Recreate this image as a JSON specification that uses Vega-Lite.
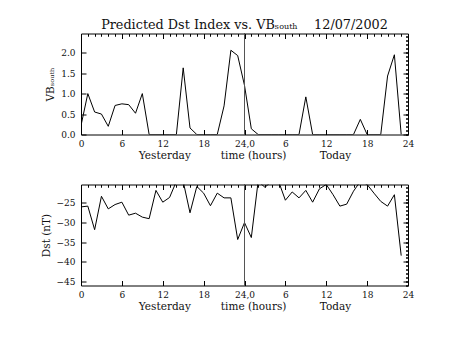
{
  "$schema": "https://vega.github.io/schema/vega-lite/v6.json",
  "background": "white",
  "padding": {"left": 41, "top": 18.5, "right": 5, "bottom": 5},
  "config": {
    "font": "DejaVu Serif",
    "view": {"stroke": null},
    "axis": {"domainColor": "black", "tickColor": "black", "labelColor": "#111", "titleColor": "#111", "labelFont": "DejaVu Serif", "titleFont": "DejaVu Serif", "labelFontSize": 9, "titleFontSize": 10.5, "titleFontWeight": "normal", "grid": false, "domainWidth": 1, "tickWidth": 1},
    "concat": {"spacing": 19}
  },
  "datasets": {
    "series": [
      {"h": 0, "vb": 0.22, "dst": -26.0},
      {"h": 1, "vb": 1.0, "dst": -25.8},
      {"h": 2, "vb": 0.55, "dst": -31.8},
      {"h": 3, "vb": 0.5, "dst": -23.3},
      {"h": 4, "vb": 0.2, "dst": -26.5},
      {"h": 5, "vb": 0.71, "dst": -25.4},
      {"h": 6, "vb": 0.75, "dst": -24.8},
      {"h": 7, "vb": 0.73, "dst": -28.1},
      {"h": 8, "vb": 0.52, "dst": -27.6},
      {"h": 9, "vb": 1.0, "dst": -28.6},
      {"h": 10, "vb": 0.0, "dst": -29.0},
      {"h": 11, "vb": 0.0, "dst": -21.8},
      {"h": 12, "vb": 0.0, "dst": -24.8},
      {"h": 13, "vb": 0.0, "dst": -23.6},
      {"h": 14, "vb": 0.0, "dst": -19.5},
      {"h": 15, "vb": 1.63, "dst": -19.5},
      {"h": 16, "vb": 0.16, "dst": -27.5},
      {"h": 17, "vb": 0.0, "dst": -20.8},
      {"h": 18, "vb": 0.0, "dst": -22.5},
      {"h": 19, "vb": 0.0, "dst": -25.7},
      {"h": 20, "vb": 0.0, "dst": -22.5},
      {"h": 21, "vb": 0.7, "dst": -23.7},
      {"h": 22, "vb": 2.06, "dst": -23.7},
      {"h": 23, "vb": 1.93, "dst": -34.3},
      {"h": 24, "vb": 1.2, "dst": -30.0},
      {"h": 25, "vb": 0.14, "dst": -33.8},
      {"h": 26, "vb": 0.0, "dst": -19.5},
      {"h": 27, "vb": 0.0, "dst": -21.0},
      {"h": 28, "vb": 0.0, "dst": -19.5},
      {"h": 29, "vb": 0.0, "dst": -19.5},
      {"h": 30, "vb": 0.0, "dst": -24.3},
      {"h": 31, "vb": 0.0, "dst": -22.2},
      {"h": 32, "vb": 0.0, "dst": -23.7},
      {"h": 33, "vb": 0.92, "dst": -21.8},
      {"h": 34, "vb": 0.0, "dst": -24.8},
      {"h": 35, "vb": 0.0, "dst": -21.4},
      {"h": 36, "vb": 0.0, "dst": -20.3},
      {"h": 37, "vb": 0.0, "dst": -22.9},
      {"h": 38, "vb": 0.0, "dst": -25.8},
      {"h": 39, "vb": 0.0, "dst": -25.3},
      {"h": 40, "vb": 0.0, "dst": -22.0},
      {"h": 41, "vb": 0.37, "dst": -19.5},
      {"h": 42, "vb": 0.0, "dst": -20.3},
      {"h": 43, "vb": 0.0, "dst": -22.5},
      {"h": 44, "vb": 0.0, "dst": -24.6},
      {"h": 45, "vb": 1.43, "dst": -25.8},
      {"h": 46, "vb": 1.95, "dst": -22.9},
      {"h": 47, "vb": 0.0, "dst": -38.4}
    ]
  },
  "vconcat": [
    {
      "width": 327,
      "height": 101,
      "data": {"name": "series"},
      "title": {"text": "Predicted Dst Index vs. VBₛₒᵤₜₕ\u00a0\u00a0\u00a0\u00a012/07/2002", "frame": "group", "anchor": "middle", "font": "DejaVu Serif", "fontSize": 12.8, "fontWeight": "normal", "offset": 1, "color": "#111"},
      "layer": [
        {
          "mark": {"type": "line", "color": "black", "strokeWidth": 1, "clip": true},
          "encoding": {
            "x": {"field": "h", "type": "quantitative", "scale": {"domain": [0, 48], "nice": false, "zero": false},
                  "axis": {"values": [0, 6, 12, 18, 24, 30, 36, 42, 48], "labelExpr": "datum.value == 24 ? '24,0' : (datum.value > 24 ? '' + (datum.value - 24) : '' + datum.value)", "tickSize": -5, "labelPadding": 10, "title": "Yesterday\u00a0\u00a0\u00a0\u00a0\u00a0\u00a0\u00a0\u00a0\u00a0time (hours)\u00a0\u00a0\u00a0\u00a0\u00a0\u00a0\u00a0\u00a0\u00a0\u00a0Today", "titlePadding": 2, "labelFlush": false}},
            "y": {"field": "vb", "type": "quantitative", "scale": {"domain": [0, 2.47], "nice": false, "zero": false},
                  "axis": {"values": [0, 0.5, 1, 1.5, 2], "format": ".1f", "tickSize": -5, "labelPadding": 11, "title": "VBₛₒᵤₜₕ", "titlePadding": 5}}
          }
        },
        {
          "mark": {"type": "line", "opacity": 0},
          "encoding": {
            "x": {"field": "h", "type": "quantitative", "axis": {"values": [0,1,2,3,4,5,6,7,8,9,10,11,12,13,14,15,16,17,18,19,20,21,22,23,24,25,26,27,28,29,30,31,32,33,34,35,36,37,38,39,40,41,42,43,44,45,46,47,48], "tickSize": -2.5, "labels": false, "domain": false, "title": null}},
            "y": {"field": "vb", "type": "quantitative", "axis": {"values": [0,0.1,0.2,0.3,0.4,0.5,0.6,0.7,0.8,0.9,1,1.1,1.2,1.3,1.4,1.5,1.6,1.7,1.8,1.9,2,2.1,2.2,2.3,2.4], "tickSize": -2.5, "labels": false, "domain": false, "title": null}}
          }
        },
        {
          "mark": {"type": "line", "opacity": 0},
          "encoding": {
            "x": {"field": "h", "type": "quantitative", "axis": {"orient": "top", "values": [0, 6, 12, 18, 24, 30, 36, 42, 48], "tickSize": -5, "labels": false, "title": null}},
            "y": {"field": "vb", "type": "quantitative", "axis": {"orient": "right", "values": [0, 0.5, 1, 1.5, 2], "tickSize": -5, "labels": false, "title": null}}
          }
        },
        {
          "mark": {"type": "line", "opacity": 0},
          "encoding": {
            "x": {"field": "h", "type": "quantitative", "axis": {"orient": "top", "values": [0,1,2,3,4,5,6,7,8,9,10,11,12,13,14,15,16,17,18,19,20,21,22,23,24,25,26,27,28,29,30,31,32,33,34,35,36,37,38,39,40,41,42,43,44,45,46,47,48], "tickSize": -2.5, "labels": false, "domain": false, "title": null}},
            "y": {"field": "vb", "type": "quantitative", "axis": {"orient": "right", "values": [0,0.1,0.2,0.3,0.4,0.5,0.6,0.7,0.8,0.9,1,1.1,1.2,1.3,1.4,1.5,1.6,1.7,1.8,1.9,2,2.1,2.2,2.3,2.4], "tickSize": -2.5, "labels": false, "domain": false, "title": null}}
          }
        },
        {
          "mark": {"type": "rule", "color": "#555", "strokeWidth": 1},
          "encoding": {"x": {"datum": 24, "axis": null}}
        }
      ],
      "resolve": {"axis": {"x": "independent", "y": "independent"}}
    },
    {
      "width": 327,
      "height": 101,
      "data": {"name": "series"},
      "layer": [
        {
          "mark": {"type": "line", "color": "black", "strokeWidth": 1, "clip": true},
          "encoding": {
            "x": {"field": "h", "type": "quantitative", "scale": {"domain": [0, 48], "nice": false, "zero": false},
                  "axis": {"values": [0, 6, 12, 18, 24, 30, 36, 42, 48], "labelExpr": "datum.value == 24 ? '24,0' : (datum.value > 24 ? '' + (datum.value - 24) : '' + datum.value)", "tickSize": -5, "labelPadding": 10, "title": "Yesterday\u00a0\u00a0\u00a0\u00a0\u00a0\u00a0\u00a0\u00a0\u00a0time (hours)\u00a0\u00a0\u00a0\u00a0\u00a0\u00a0\u00a0\u00a0\u00a0\u00a0Today", "titlePadding": 2, "labelFlush": false}},
            "y": {"field": "dst", "type": "quantitative", "scale": {"domain": [-46, -20.3], "nice": false, "zero": false},
                  "axis": {"values": [-45, -40, -35, -30, -25], "format": "d", "tickSize": -5, "labelPadding": 11, "title": "Dst (nT)", "titlePadding": 5}}
          }
        },
        {
          "mark": {"type": "line", "opacity": 0},
          "encoding": {
            "x": {"field": "h", "type": "quantitative", "axis": {"values": [0,1,2,3,4,5,6,7,8,9,10,11,12,13,14,15,16,17,18,19,20,21,22,23,24,25,26,27,28,29,30,31,32,33,34,35,36,37,38,39,40,41,42,43,44,45,46,47,48], "tickSize": -2.5, "labels": false, "domain": false, "title": null}},
            "y": {"field": "dst", "type": "quantitative", "axis": {"values": [-46,-45,-44,-43,-42,-41,-40,-39,-38,-37,-36,-35,-34,-33,-32,-31,-30,-29,-28,-27,-26,-25,-24,-23,-22,-21], "tickSize": -2.5, "labels": false, "domain": false, "title": null}}
          }
        },
        {
          "mark": {"type": "line", "opacity": 0},
          "encoding": {
            "x": {"field": "h", "type": "quantitative", "axis": {"orient": "top", "values": [0, 6, 12, 18, 24, 30, 36, 42, 48], "tickSize": -5, "labels": false, "title": null}},
            "y": {"field": "dst", "type": "quantitative", "axis": {"orient": "right", "values": [-45, -40, -35, -30, -25], "tickSize": -5, "labels": false, "title": null}}
          }
        },
        {
          "mark": {"type": "line", "opacity": 0},
          "encoding": {
            "x": {"field": "h", "type": "quantitative", "axis": {"orient": "top", "values": [0,1,2,3,4,5,6,7,8,9,10,11,12,13,14,15,16,17,18,19,20,21,22,23,24,25,26,27,28,29,30,31,32,33,34,35,36,37,38,39,40,41,42,43,44,45,46,47,48], "tickSize": -2.5, "labels": false, "domain": false, "title": null}},
            "y": {"field": "dst", "type": "quantitative", "axis": {"orient": "right", "values": [-46,-45,-44,-43,-42,-41,-40,-39,-38,-37,-36,-35,-34,-33,-32,-31,-30,-29,-28,-27,-26,-25,-24,-23,-22,-21], "tickSize": -2.5, "labels": false, "domain": false, "title": null}}
          }
        },
        {
          "mark": {"type": "rule", "color": "#555", "strokeWidth": 1},
          "encoding": {"x": {"datum": 24, "axis": null}}
        }
      ],
      "resolve": {"axis": {"x": "independent", "y": "independent"}}
    }
  ]
}
